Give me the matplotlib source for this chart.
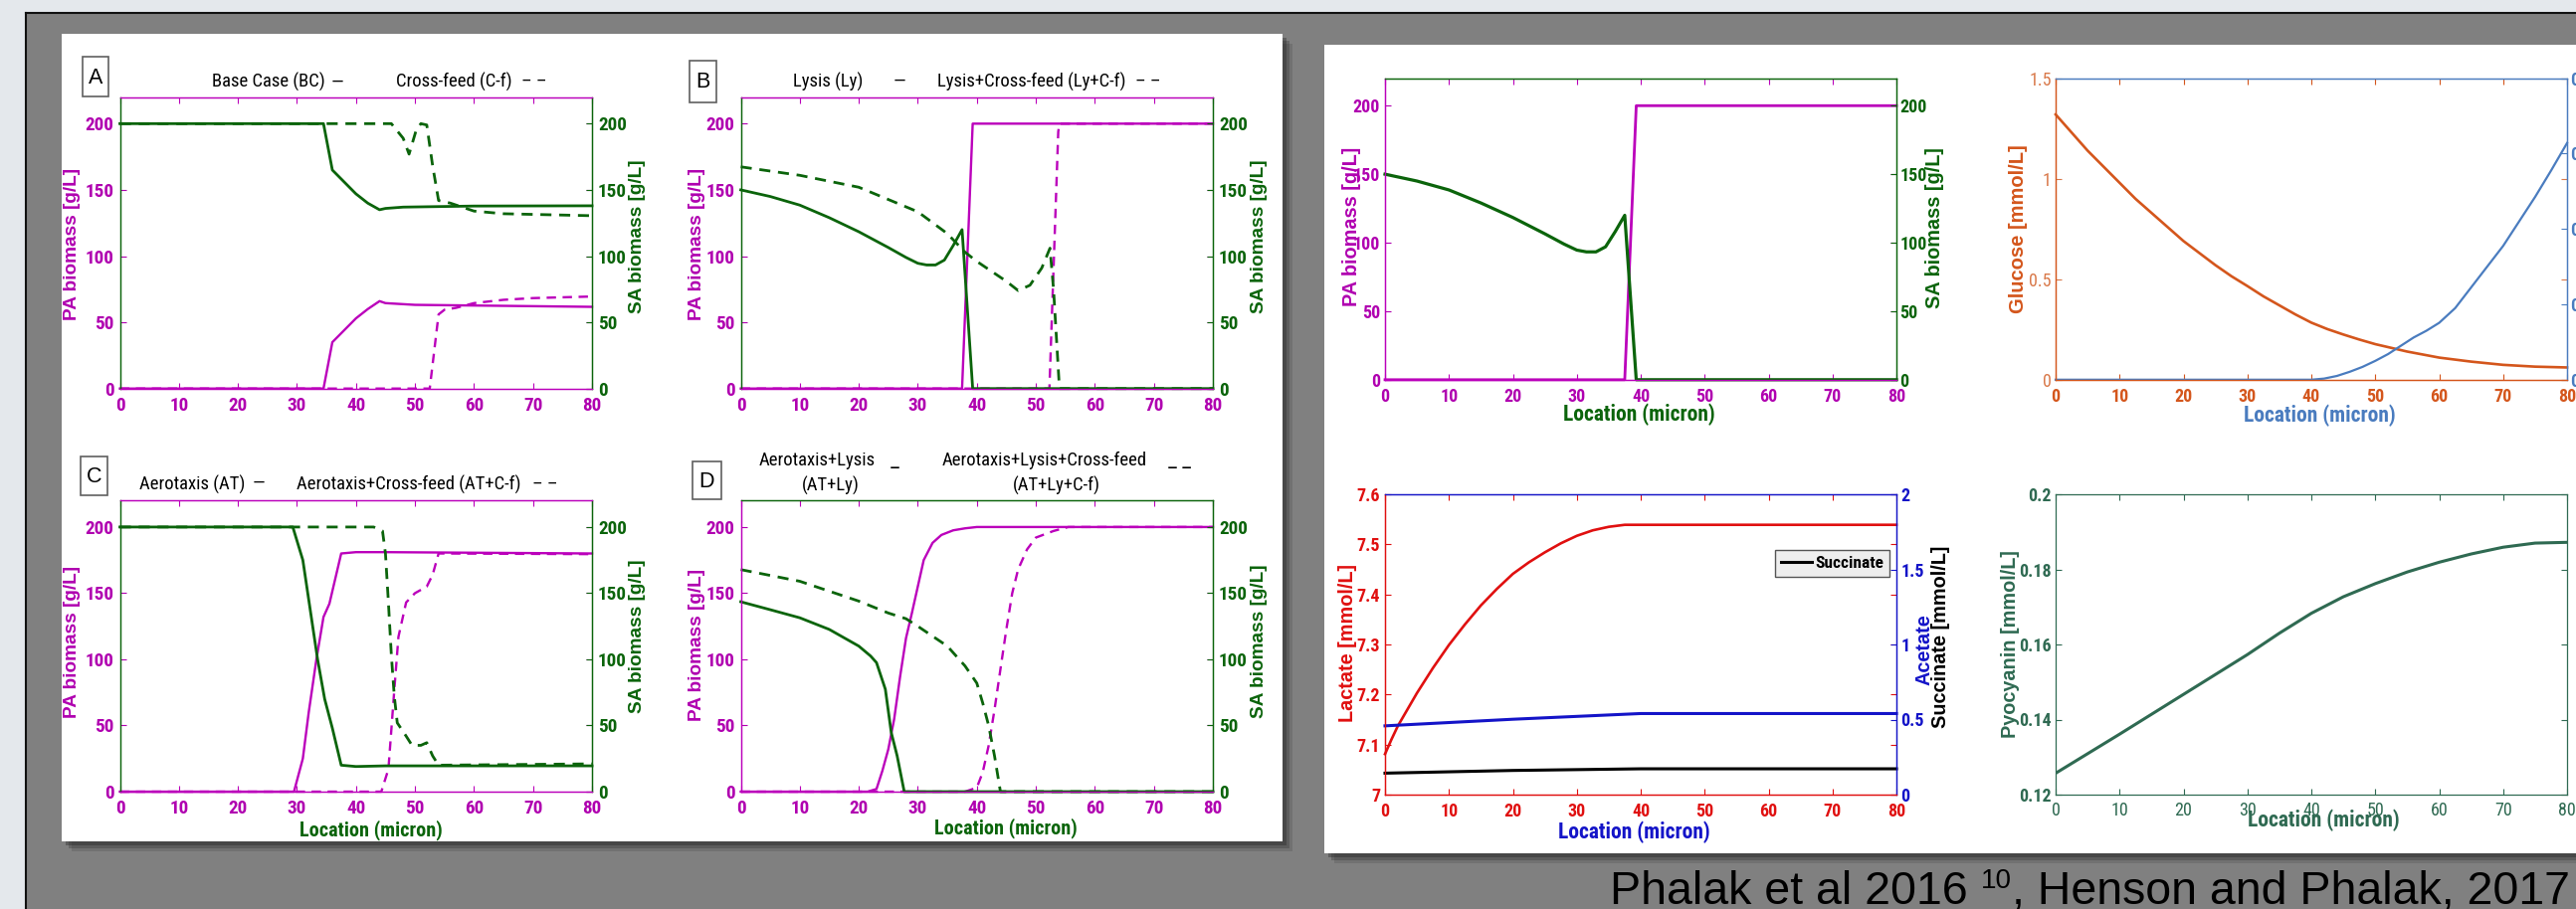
import matplotlib.pyplot as plt
from matplotlib import font_manager
from matplotlib.patches import Rectangle

W, H = 2589, 914

ARIAL = ['Liberation Sans', 'DejaVu Sans']
installed = {f.name for f in font_manager.fontManager.ttflist}
if 'Roboto Condensed' in installed:
    NARROW, NS = ['Roboto Condensed', 'DejaVu Sans'], 1.0
else:
    # no condensed face: shrink the Arial-like face so widths roughly match
    NARROW, NS = ARIAL, 0.86

MAG = '#bb00bb'
MAG_TXT = '#b000b0'
GRN = '#0b640b'
ORN = '#d4561c'
LBLUE = '#4a7cbf'
RED = '#e01010'
BLUE = '#1414c8'
TEAL = '#2f6a52'

loc_ticks = [0, 10, 20, 30, 40, 50, 60, 70, 80]
biomass_ticks = [0, 50, 100, 150, 200]

# ---- A: base case (solid) / cross-feed (dashed) ----
a_sa_bc_x = [0, 34.5, 36, 38, 40, 42, 44, 45, 48, 60, 80]
a_sa_bc_y = [200, 200, 165, 156, 147, 140, 135, 136, 137, 137.8, 138]
a_sa_cf_x = [0, 46, 48, 49, 50.2, 51, 52, 53, 54, 56, 58, 60, 65, 80]
a_sa_cf_y = [200, 200, 189, 177, 195, 200, 199, 168, 142, 140, 137, 134, 132, 130.5]
a_pa_bc_x = [0, 34.5, 36, 38, 40, 42, 44, 45, 50, 60, 80]
a_pa_bc_y = [0, 0, 35, 44, 53, 60, 66, 64.5, 63.2, 62.7, 61.7]
a_pa_cf_x = [0, 52.5, 54, 55, 57, 60, 65, 70, 80]
a_pa_cf_y = [0, 0, 56, 59.5, 61, 64.5, 67, 68.3, 69.5]

# ---- B: lysis (solid) / lysis + cross-feed (dashed) ----
b_sa_ly_x = [0, 5, 10, 15, 20, 25, 28, 30, 31.5, 33, 34.5, 36, 37.5, 39.3, 80]
b_sa_ly_y = [150, 145, 138.5, 129, 118.4, 106.5, 99, 94.6, 93.3, 93.3, 97, 108, 120, 0, 0]
b_sa_lycf_x = [0, 10, 20, 30, 35, 38, 40, 45, 47, 49, 51, 52.4, 53, 54, 80]
b_sa_lycf_y = [167.4, 161, 152, 133.5, 117, 103, 96, 81, 74, 78, 91, 106, 75, 0, 0]
b_pa_ly_x = [0, 37.5, 39.3, 80]
b_pa_ly_y = [0, 0, 200, 200]
b_pa_lycf_x = [0, 52.3, 53.8, 54, 80]
b_pa_lycf_y = [0, 0, 194, 200, 200]

# ---- C: aerotaxis (solid) / aerotaxis + cross-feed (dashed) ----
c_sa_at_x = [0, 29.3, 31, 32.5, 33.5, 34.7, 36, 37.5, 40, 45, 80]
c_sa_at_y = [200, 200, 175, 130, 100, 70, 48, 20, 19, 19.5, 19.5]
c_pa_at_x = [0, 29.5, 31, 32, 33.3, 34.5, 35.5, 37.5, 40, 45, 80]
c_pa_at_y = [0, 0, 25, 60, 100, 132, 142, 180, 181, 181, 180]
c_sa_atcf_x = [0, 43, 44.5, 45, 45.5, 46, 46.5, 47, 48.5, 49.5, 51, 52, 53, 54, 80]
c_sa_atcf_y = [200, 200, 197, 180, 143, 103, 72, 52, 42, 35, 35, 37, 27, 20, 21]
c_pa_atcf_x = [0, 44.3, 45.5, 46.5, 47.2, 48.5, 50, 52, 53, 54, 80]
c_pa_atcf_y = [0, 0, 17, 77, 117, 143, 150, 155, 164, 180, 179.5]

# ---- D: aerotaxis + lysis (solid) / + cross-feed (dashed) ----
d_sa_atly_x = [0, 5, 10, 15, 20, 22, 23, 24.5, 25.5, 26.5, 27.7, 80]
d_sa_atly_y = [143.5, 137.5, 131.4, 122.6, 110, 102.5, 97.5, 77.4, 44.7, 27, 0, 0]
d_sa_atlycf_x = [0, 10, 20, 25, 28, 30, 35, 38, 40, 41, 42, 43, 44, 80]
d_sa_atlycf_y = [167.8, 159, 144, 135, 130.7, 125, 110, 95, 82, 67, 50, 27, 0, 0]
d_pa_atly_x = [0, 21.5, 23, 24, 25, 26, 27, 28, 29, 30, 31, 32.5, 34, 36, 38, 40, 80]
d_pa_atly_y = [0, 0, 2, 15.8, 32, 55, 87, 116, 135, 155, 175, 188, 194, 197.5, 199, 200, 200]
d_pa_atlycf_x = [0, 38, 40, 41, 42, 43, 44, 45, 46, 47, 48.5, 50, 53, 55.5, 80]
d_pa_atlycf_y = [0, 0, 3, 14.6, 34.7, 62, 92.5, 122.6, 150, 168, 183, 192, 197, 200, 200]

# ---- right slide: metabolites ----
glucose_x = [0, 2.5, 5, 7.5, 10, 12.5, 15, 17.5, 20, 22.5, 25, 27.5, 30, 32.5, 35, 37.5,
             40, 42.5, 45, 47.5, 50, 55, 60, 65, 70, 75, 80]
glucose_y = [1.32, 1.23, 1.14, 1.06, 0.98, 0.90, 0.83, 0.76, 0.69, 0.63, 0.57, 0.515, 0.466,
             0.415, 0.37, 0.325, 0.284, 0.252, 0.225, 0.2, 0.177, 0.14, 0.11, 0.09, 0.074, 0.065, 0.061]
oxygen_x = [0, 40, 42, 44, 46, 48, 50, 52, 54, 56, 58, 60, 62.5, 65, 67.5, 70, 72.5, 75, 77.5, 80]
oxygen_y = [0, 0, 0.003, 0.01, 0.021, 0.034, 0.05, 0.068, 0.09, 0.112, 0.13, 0.151, 0.19, 0.245,
            0.30, 0.355, 0.42, 0.485, 0.555, 0.628]
oxygen_ticks = [0, 0.2, 0.4, 0.6, 0.8]

lactate_x = [0, 1, 2, 3.5, 5, 7.5, 10, 12.5, 15, 17.5, 20, 22.5, 25, 27.5, 30, 32.5, 35, 37.5, 80]
lactate_y = [7.081, 7.11, 7.137, 7.17, 7.203, 7.253, 7.299, 7.34, 7.378, 7.411, 7.441, 7.464,
             7.484, 7.502, 7.517, 7.528, 7.535, 7.539, 7.539]
acetate_x = [0, 20, 40, 80]
acetate_y = [0.458, 0.502, 0.54, 0.54]
succinate_x = [0, 20, 40, 80]
succinate_y = [0.143, 0.161, 0.172, 0.172]

pyocyanin_x = [0, 5, 10, 15, 20, 25, 30, 35, 40, 45, 50, 55, 60, 65, 70, 75, 80]
pyocyanin_y = [0.1257, 0.1309, 0.1361, 0.1414, 0.1467, 0.152, 0.1573, 0.163, 0.1683, 0.1727,
               0.1762, 0.1793, 0.1819, 0.1841, 0.1859, 0.187, 0.1872]


fig = plt.figure(figsize=(W / 100, H / 100), dpi=100)
fig.patch.set_facecolor('#e4e8ec')


def fx(px):
    return px / W


def fy(py):
    return 1 - py / H


def rect_px(x0, y0, x1, y1, **kw):
    fig.patches.append(Rectangle((fx(x0), fy(y1)), (x1 - x0) / W, (y1 - y0) / H,
                                 transform=fig.transFigure, **kw))


def put_text(px, py, s, **kw):
    return fig.text(fx(px), fy(py), s, **kw)


def twin_axes(x0, y0, x1, y1):
    ax = fig.add_axes([fx(x0), fy(y1), (x1 - x0) / W, (y1 - y0) / H])
    ax2 = ax.twinx()
    ax.set_xlim(0, 80)
    return ax, ax2


def style_pair(ax, ax2, spines, xcol, lcol, rcol, yticks, ylabels, y2ticks, y2labels,
               size, xweight='bold', yweight='bold', ypad=4.5, y2pad=4.3):
    size = size * NS
    ax.set_xticks(loc_ticks, [str(t) for t in loc_ticks], family=NARROW, weight=xweight,
                  size=size, color=xcol)
    ax.set_yticks(yticks, ylabels, family=NARROW, weight=yweight, size=size, color=lcol)
    ax2.set_yticks(y2ticks, y2labels, family=NARROW, weight='bold', size=size, color=rcol)
    ax.tick_params(axis='x', direction='in', top=True, length=4.5, width=0.8,
                   color=spines['bottom'], pad=6)
    ax.tick_params(axis='y', direction='in', right=True, labelright=False, length=4.5,
                   width=0.8, color=lcol, pad=ypad)
    ax2.tick_params(axis='y', direction='in', length=4.5, width=0.8, color=rcol, pad=y2pad)
    for a in (ax, ax2):
        for side, col in spines.items():
            a.spines[side].set_color(col)
            a.spines[side].set_linewidth(0.9)


# slide background
rect_px(26, 13, W, H, fc='#808080', ec='none', zorder=-30)
fig.add_artist(plt.Line2D([fx(26), 1], [fy(13), fy(13)], transform=fig.transFigure,
                          color='#111111', lw=1.5, zorder=-25))
fig.add_artist(plt.Line2D([fx(26), fx(26)], [fy(13), 0], transform=fig.transFigure,
                          color='#111111', lw=1.5, zorder=-25))

# white figure panels with a soft shadow
for d, a in [(10, 0.15), (7, 0.25), (4, 0.35)]:
    rect_px(62 + d, 34 + d, 1289 + d, 846 + d, fc='#202020', ec='none', alpha=a, zorder=-20)
    rect_px(1331 + d, 45 + d, W + d, 858 + d, fc='#202020', ec='none', alpha=a, zorder=-20)
rect_px(62, 34, 1289, 846, fc='white', ec='none', zorder=-10)
rect_px(1331, 45, W, 858, fc='white', ec='none', zorder=-10)

panels = [
    # rect, PA solid, PA dashed, SA solid, SA dashed, spine colours
    ((120.5, 97.7, 595, 390.7), (a_pa_bc_x, a_pa_bc_y), (a_pa_cf_x, a_pa_cf_y),
     (a_sa_bc_x, a_sa_bc_y), (a_sa_cf_x, a_sa_cf_y), {'top': MAG, 'bottom': MAG, 'left': GRN, 'right': GRN}),
    ((744.5, 97.7, 1219, 390.7), (b_pa_ly_x, b_pa_ly_y), (b_pa_lycf_x, b_pa_lycf_y),
     (b_sa_ly_x, b_sa_ly_y), (b_sa_lycf_x, b_sa_lycf_y), {'top': MAG, 'bottom': MAG, 'left': GRN, 'right': GRN}),
    ((120.5, 503.3, 595, 796), (c_pa_at_x, c_pa_at_y), (c_pa_atcf_x, c_pa_atcf_y),
     (c_sa_at_x, c_sa_at_y), (c_sa_atcf_x, c_sa_atcf_y), {'top': MAG, 'bottom': MAG, 'left': GRN, 'right': GRN}),
    ((744.5, 503.3, 1219, 796), (d_pa_atly_x, d_pa_atly_y), (d_pa_atlycf_x, d_pa_atlycf_y),
     (d_sa_atly_x, d_sa_atly_y), (d_sa_atlycf_x, d_sa_atlycf_y), {'top': GRN, 'bottom': MAG, 'left': MAG, 'right': GRN}),
]

for rect, pa_s, pa_d, sa_s, sa_d, spines in panels:
    ax, ax2 = twin_axes(*rect)
    ax.set_ylim(0, 220)
    ax2.set_ylim(0, 220)
    ax.plot(*pa_d, color=MAG, lw=1.7, ls=(0, (4, 2.8)), clip_on=False)
    ax.plot(*pa_s, color=MAG, lw=1.7, clip_on=False)
    ax2.plot(*sa_d, color=GRN, lw=2.0, ls=(0, (4, 2.8)), clip_on=False)
    ax2.plot(*sa_s, color=GRN, lw=2.0, clip_on=False)
    style_pair(ax, ax2, spines, MAG_TXT, MAG_TXT, GRN, biomass_ticks,
               [str(t) for t in biomass_ticks], biomass_ticks, [str(t) for t in biomass_ticks], 13.8)

# y labels of the four biomass panels
for px, py in [(72.8, 245), (72.8, 645), (700, 245), (700, 648)]:
    put_text(px, py, 'PA biomass [g/L]', rotation=90, ha='center', va='center', size=13.7,
             weight='bold', family=ARIAL, color=MAG_TXT)
for px, py in [(640.8, 238), (640.8, 640), (1265.7, 238), (1265.7, 645)]:
    put_text(px, py, 'SA biomass [g/L]', rotation=90, ha='center', va='center', size=13.7,
             weight='bold', family=ARIAL, color=GRN)
for px, py in [(373, 835), (1010.7, 833)]:
    put_text(px, py, 'Location (micron)', ha='center', va='center', size=14.5 * NS, weight='bold',
             family=NARROW, color=GRN)

# panel letters
for letter, (x0, y0, x1, y1) in [('A', (83, 57, 109, 97)), ('B', (693, 61, 720, 103)),
                                 ('C', (81, 459, 108, 498)), ('D', (696, 464, 725, 502))]:
    rect_px(x0, y0, x1, y1, fc='white', ec='#606060', lw=1.2)
    put_text((x0 + x1) / 2, (y0 + y1) / 2 + 1, letter, ha='center', va='center', size=15.5,
             family=ARIAL, color='black')

# legend-like headings
hs = 13.4 * NS
tkw = dict(va='center', size=hs, family=NARROW, color='black')
put_text(213, 82, 'Base Case (BC)', **tkw)
put_text(333, 83, '\u2014', **tkw)
put_text(398, 82, 'Cross-feed (C-f)', **tkw)
put_text(524, 82, '\u2013 \u2013', **tkw)
put_text(797, 82, 'Lysis (Ly)', **tkw)
put_text(898, 82, '\u2014', **tkw)
put_text(942, 82, 'Lysis+Cross-feed (Ly+C-f)', **tkw)
put_text(1141, 82, '\u2013 \u2013', **tkw)
put_text(140, 487, 'Aerotaxis (AT)', **tkw)
put_text(254, 486, '\u2014', **tkw)
put_text(298, 487, 'Aerotaxis+Cross-feed (AT+C-f)', **tkw)
put_text(535, 487, '\u2013 \u2013', **tkw)
ckw = dict(va='center', ha='center', size=hs, family=NARROW, color='black')
put_text(821, 463, 'Aerotaxis+Lysis', **ckw)
put_text(835, 488, '(AT+Ly)', **ckw)
put_text(1050, 463, 'Aerotaxis+Lysis+Cross-feed', **ckw)
put_text(1062, 488, '(AT+Ly+C-f)', **ckw)
put_text(895, 469, '_', ha='left', va='baseline', size=hs * 1.2, family=NARROW, color='black')
put_text(1174, 469, '_ _', ha='left', va='baseline', size=hs * 1.2, family=NARROW, color='black')

# ---- right slide, top left: lysis biomass ----
ax, ax2 = twin_axes(1392, 78.7, 1906, 381.8)
ax.set_ylim(0, 220)
ax2.set_ylim(0, 220)
ax.plot(b_pa_ly_x, b_pa_ly_y, color=MAG, lw=2.0, clip_on=False)
ax2.plot(b_sa_ly_x, b_sa_ly_y, color=GRN, lw=2.3, clip_on=False)
style_pair(ax, ax2, {'top': GRN, 'bottom': MAG, 'left': MAG, 'right': GRN}, MAG_TXT, MAG_TXT, GRN,
           biomass_ticks, [str(t) for t in biomass_ticks], biomass_ticks,
           [str(t) for t in biomass_ticks], 13.0, ypad=3.6, y2pad=2.5)
put_text(1359, 228, 'PA biomass [g/L]', rotation=90, ha='center', va='center', size=14.3,
         weight='bold', family=ARIAL, color=MAG_TXT)
put_text(1944, 229, 'SA biomass [g/L]', rotation=90, ha='center', va='center', size=14.3,
         weight='bold', family=ARIAL, color=GRN)
put_text(1647, 417, 'Location (micron)', ha='center', va='center', size=15.5 * NS, weight='bold',
         family=NARROW, color=GRN)

# ---- right slide, top right: glucose / oxygen ----
ax, ax2 = twin_axes(2066, 78.7, 2580, 381.8)
ax.set_ylim(0, 1.5)
ax2.set_ylim(0, 0.8)
ax.plot(glucose_x, glucose_y, color=ORN, lw=1.9, clip_on=False)
ax2.plot(oxygen_x, oxygen_y, color=LBLUE, lw=1.6, clip_on=False)
style_pair(ax, ax2, {'top': LBLUE, 'bottom': ORN, 'left': ORN, 'right': LBLUE}, ORN, '#d9794a', LBLUE,
           [0, 0.5, 1, 1.5], ['0', '0.5', '1', '1.5'], oxygen_ticks,
           ['0', '0.2', '0.4', '0.6', '0.8'], 13.0, yweight='normal', ypad=3, y2pad=2)
put_text(2028, 230, 'Glucose [mmol/L]', rotation=90, ha='center', va='center', size=14.5,
         weight='bold', family=ARIAL, color=ORN)
put_text(2331, 418, 'Location (micron)', ha='center', va='center', size=15.5 * NS, weight='bold',
         family=NARROW, color=LBLUE)

# ---- right slide, bottom left: lactate / acetate / succinate ----
ax, ax2 = twin_axes(1392, 497, 1906, 799)
ax.set_ylim(7, 7.6)
ax2.set_ylim(0, 2)
ax.plot(lactate_x, lactate_y, color=RED, lw=1.9, clip_on=False)
ax2.plot(acetate_x, acetate_y, color=BLUE, lw=2.2, clip_on=False)
succ_line, = ax2.plot(succinate_x, succinate_y, color='black', lw=2.2, clip_on=False)
style_pair(ax, ax2, {'top': BLUE, 'bottom': RED, 'left': RED, 'right': BLUE}, RED, RED, BLUE,
           [7, 7.1, 7.2, 7.3, 7.4, 7.5, 7.6], ['7', '7.1', '7.2', '7.3', '7.4', '7.5', '7.6'],
           [0, 0.5, 1, 1.5, 2], ['0', '0.5', '1', '1.5', '2'], 13.0, ypad=3.6, y2pad=3)
ax2.legend([succ_line], ['Succinate'], loc='upper left', bbox_to_anchor=(fx(1775), fy(544)),
           bbox_transform=fig.transFigure, fancybox=False, edgecolor='#555555', facecolor='#eeeeee',
           framealpha=1, borderpad=0.35, handlelength=1.8, handletextpad=0.2,
           prop={'family': NARROW, 'weight': 'bold', 'size': 12.5 * NS})
put_text(1355, 647, 'Lactate [mmol/L]', rotation=90, ha='center', va='center', size=14.3,
         weight='bold', family=ARIAL, color=RED)
put_text(1934, 653, 'Acetate', rotation=90, ha='center', va='center', size=14.3,
         weight='bold', family=ARIAL, color=BLUE)
put_text(1951, 640, 'Succinate [mmol/L]', rotation=90, ha='center', va='center', size=14.3,
         weight='bold', family=ARIAL, color='black')
put_text(1642, 837, 'Location (micron)', ha='center', va='center', size=15.5 * NS, weight='bold',
         family=NARROW, color=BLUE)

# ---- right slide, bottom right: pyocyanin ----
ax = fig.add_axes([fx(2066), fy(799), (2580 - 2066) / W, (799 - 497) / H])
ax.set_xlim(0, 80)
ax.set_ylim(0.12, 0.2)
ax.plot(pyocyanin_x, pyocyanin_y, color=TEAL, lw=2.2)
ax.set_xticks(loc_ticks, [str(t) for t in loc_ticks], family=NARROW, size=13.0 * NS, color=TEAL)
ax.set_yticks([0.12, 0.14, 0.16, 0.18, 0.2], ['0.12', '0.14', '0.16', '0.18', '0.2'],
              family=NARROW, weight='bold', size=13.0 * NS, color=TEAL)
ax.tick_params(axis='x', direction='in', top=True, length=4.5, width=0.8, color=TEAL, pad=5)
ax.tick_params(axis='y', direction='in', right=True, length=4.5, width=0.8, color=TEAL, pad=3)
for s in ax.spines.values():
    s.set_color(TEAL)
    s.set_linewidth(0.9)
put_text(2020, 648, 'Pyocyanin [mmol/L]', rotation=90, ha='center', va='center', size=14.3,
         weight='bold', family=ARIAL, color=TEAL)
put_text(2335, 825, 'Location (micron)', ha='center', va='center', size=15.5 * NS, weight='bold',
         family=NARROW, color=TEAL)

# ---- citation, right-aligned on the slide ----
renderer = fig.canvas.get_renderer()
parts = [('Phalak et al 2016 ', 33.5, 909), ('10', 20, 893), (', Henson and Phalak, 2017', 33.5, 909)]
texts = [put_text(0, base, s, size=sz, family=ARIAL, va='baseline', color='black')
         for s, sz, base in parts]
widths = [t.get_window_extent(renderer).width for t in texts]
x = 2583 - sum(widths)
for t, w in zip(texts, widths):
    t.set_x(fx(x))
    x += w

fig.savefig('out.png', dpi=100, facecolor=fig.get_facecolor())
